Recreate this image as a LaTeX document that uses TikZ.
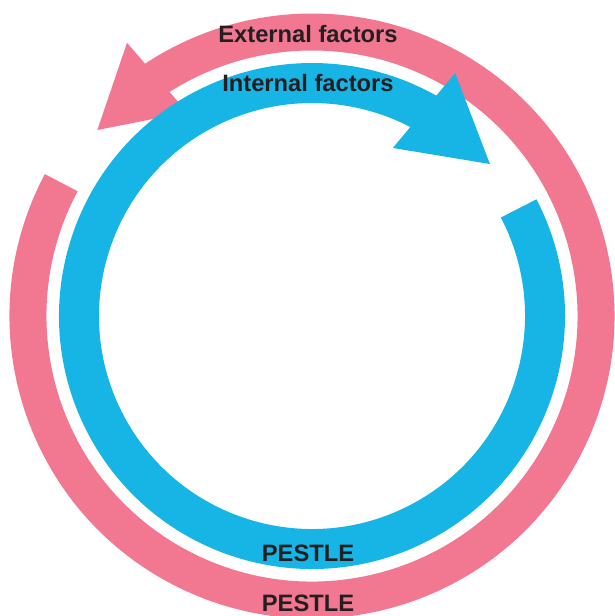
\documentclass[tikz,border=0pt]{standalone}
\usepackage{fontspec}
\setmainfont{Liberation Sans}
\usepackage{tikz}
\usetikzlibrary{positioning}
\definecolor{extpink}{RGB}{242,120,146}
\definecolor{intblue}{RGB}{23,181,229}
\definecolor{txtdark}{RGB}{35,31,32}
\tikzset{
  extband/.style={extpink, line width=0.74cm},
  intband/.style={intblue, line width=0.8cm},
  lbl/.style={text=txtdark, font=\bfseries\fontsize{13.5}{16}\selectfont,
              inner sep=0pt, anchor=base},
}

\begin{document}
\begin{tikzpicture}[x=0.02cm, y=0.02cm]
  \useasboundingbox (-312,-300) rectangle (303,316);
  % outer ring, external factors
  \draw[extband] (152:284) arc[start angle=152, end angle=484, radius=284];
  \fill[extpink] (124.1:330) -- (139.1:284) -- (121.5:239) -- cycle;
  % inner ring, internal factors
  \draw[intband] (27.5:233) arc[start angle=27.5, end angle=-299.5, radius=233];
  \fill[intblue] (59.5:282) -- (40.5:234) -- (64.3:186.5) -- cycle;
  % labels
  \node[lbl] (ext) at (-4,273.3) {External factors};
  \node[lbl] (int) at (-4,224.3) {Internal factors};
  \node[lbl] (intp) at (-4,-245.7) {PESTLE};
  \node[lbl] (extp) at (-4,-295) {PESTLE};
\end{tikzpicture}
\end{document}
